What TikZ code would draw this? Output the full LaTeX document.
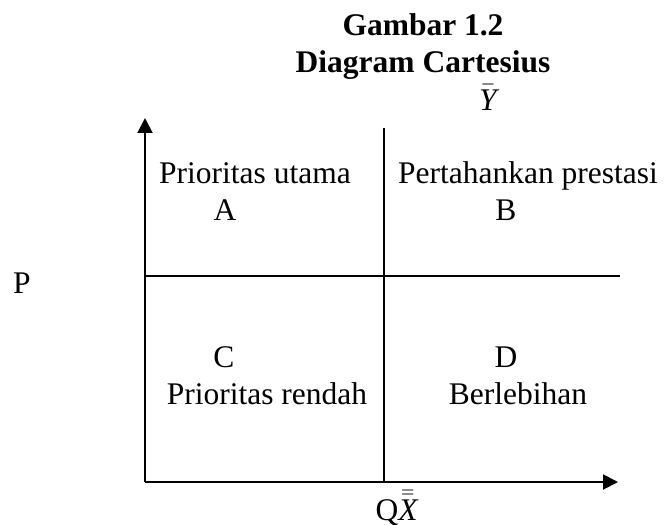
\documentclass[tikz,border=0pt]{standalone}
\usepackage{fontspec}
\setmainfont{Liberation Serif}
\usetikzlibrary{arrows.meta,positioning}
\tikzset{
  >={Triangle[length=5.7pt,width=5.7pt]},
  font=\fontsize{12}{14}\selectfont,
  axis/.style={->,line width=0.76pt},
  divider/.style={line width=0.76pt},
  judul/.style={font=\fontsize{12}{14}\selectfont\bfseries,anchor=base,inner sep=0pt},
  lbl/.style={anchor=base,inner sep=0pt},
}
\begin{document}
\begin{tikzpicture}[x=0.381pt,y=-0.381pt]
  \useasboundingbox (0,0) rectangle (665,524);
  % sumbu dan garis pembagi kuadran
  \coordinate (O) at (145,482);
  \coordinate (ytip) at (145,118);
  \coordinate (xtip) at (618,482);
  \coordinate (vtop) at (384,128);
  \coordinate (vbot) at (384,482);
  \coordinate (hkiri) at (145,276);
  \coordinate (hkanan) at (620,276);

  \draw[axis] (O) -- (ytip);
  \draw[axis] (O) -- (xtip);
  \draw[divider] (vtop) -- (vbot);
  \draw[divider] (hkiri) -- (hkanan);

  % judul
  \node[judul] (gambar) at (423,35) {Gambar 1.2};
  \node[judul] (cartesius) at (423,72) {Diagram Cartesius};
  \node[lbl] (ybar) at (488,110) {$\bar{\textit{Y}}$};

  % kuadran
  \node[lbl] (utama) at (255,183) {Prioritas utama};
  \node[lbl] (kA) at (225,220) {A};
  \node[lbl] (pertahankan) at (528,183) {Pertahankan prestasi};
  \node[lbl] (kB) at (506,220) {B};
  \node[lbl] (kC) at (224,367) {C};
  \node[lbl] (rendah) at (267,404) {Prioritas rendah};
  \node[lbl] (kD) at (506,367) {D};
  \node[lbl] (lebih) at (518,404) {Berlebihan};

  % label sumbu
  \node[lbl] (P) at (22,293) {P};
  \node[lbl,anchor=base west] (QX) at (375,520) {Q$\bar{\bar{\textit{X}}}$};
\end{tikzpicture}
\end{document}
